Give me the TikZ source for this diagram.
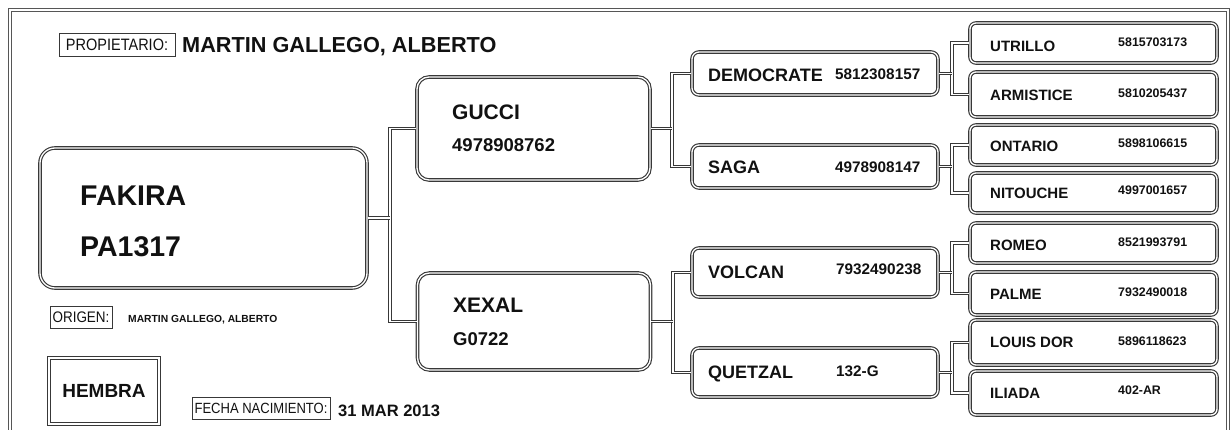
\documentclass[tikz,border=0pt]{standalone}
\usepackage{fontspec}
\setmainfont{Liberation Sans}
\newfontfamily\labelfont[FakeStretch=0.88]{Liberation Sans}
\usetikzlibrary{positioning}
\definecolor{PedLine}{HTML}{383838}
\definecolor{PedInk}{HTML}{111111}
\newcommand{\pxsize}[1]{\fontsize{#1pt}{#1pt}\selectfont}

\begin{document}
\begin{tikzpicture}[
  x=1pt,
  y=-1pt,
  every node/.style={text=PedInk},
  frameline/.style={draw=PedLine!85, line width=1pt, double, double distance=1.6pt},
  horse/.style={draw=PedLine, line width=1.15pt, double, double distance=1.3pt, fill=white},
  bigbox/.style={horse, rounded corners=15pt, minimum width=327pt, minimum height=140pt},
  parbox/.style={horse, rounded corners=12pt, minimum width=233pt},
  gpbox/.style={horse, rounded corners=7pt, minimum width=246pt},
  ggpbox/.style={horse, rounded corners=6pt, minimum width=247pt},
  sexbox/.style={horse, fill=none, minimum width=110pt, minimum height=66pt, font=\bfseries\pxsize{19}},
  tag/.style={draw=PedLine, line width=0.9pt, inner sep=0pt, minimum height=22pt},
  link/.style={draw=PedLine, line width=1.15pt, double, double distance=1.3pt},
  nm/.style={anchor=base west, inner sep=0pt}
]
\useasboundingbox (0,0) rectangle (1232,430);
\clip (0,0) rectangle (1232,430);

% outer frame, open at the bottom
\draw[frameline] (10,445) -- (10,10) -- (1228,10) -- (1228,445);

% header and footer data
\node[tag, font=\labelfont\pxsize{16.5}, minimum width=116pt, minimum height=23pt] (ownertag) at (117,44.5) {PROPIETARIO:};
\node[nm, font=\bfseries\pxsize{21.7}] (owner) at (182,53) {MARTIN GALLEGO, ALBERTO};
\node[tag, font=\labelfont\pxsize{15.3}, minimum width=62pt] (origintag) at (81,317) {ORIGEN:};
\node[nm, font=\bfseries\pxsize{10.3}] (origin) at (128,323) {MARTIN GALLEGO, ALBERTO};
\node[sexbox] (sex) at (104,391) {HEMBRA};
\node[tag, font=\labelfont\pxsize{14.8}, minimum width=138pt] (birthtag) at (261,408) {FECHA NACIMIENTO:};
\node[nm, font=\bfseries\pxsize{16.5}] (birth) at (338,416) {31 MAR 2013};

% pedigree boxes
\node[bigbox] (fakira) at (203.5,218) {};
\node[parbox, minimum height=103pt] (gucci) at (533.5,128.5) {};
\node[parbox, minimum height=97pt] (xexal) at (534,321.5) {};
\node[gpbox, minimum height=43pt] (democrate) at (815,73.5) {};
\node[gpbox, minimum height=43pt] (saga) at (815,166.5) {};
\node[gpbox, minimum height=49pt] (volcan) at (815,272.5) {};
\node[gpbox, minimum height=49pt] (quetzal) at (815,372.5) {};
\node[ggpbox, minimum height=40pt] (utrillo) at (1093.5,43) {};
\node[ggpbox, minimum height=45pt] (armistice) at (1093.5,94.5) {};
\node[ggpbox, minimum height=40pt] (ontario) at (1093.5,145) {};
\node[ggpbox, minimum height=40pt] (nitouche) at (1093.5,193) {};
\node[ggpbox, minimum height=40pt] (romeo) at (1093.5,243) {};
\node[ggpbox, minimum height=43pt] (palme) at (1093.5,293.5) {};
\node[ggpbox, minimum height=45pt] (louisdor) at (1093.5,342.5) {};
\node[ggpbox, minimum height=44pt] (iliada) at (1093.5,393) {};

% forks
\coordinate (fork1) at (390,225);
\coordinate (fork2) at (672,131);
\coordinate (fork3) at (673,327);
\coordinate (fork4) at (952,77);
\coordinate (fork5) at (952,168);
\coordinate (fork6) at (952,272);
\coordinate (fork7) at (952,370);

\draw[link] (gucci.west) -| (fork1) |- (xexal.west);
\draw[link] (fakira.east) -- (fakira.east -| fork1);
\draw[link] (democrate.west) -| (fork2) |- (saga.west);
\draw[link] (gucci.east) -- (gucci.east -| fork2);
\draw[link] (volcan.west) -| (fork3) |- (quetzal.west);
\draw[link] (xexal.east) -- (xexal.east -| fork3);
\draw[link] (utrillo.west) -| (fork4) |- (armistice.west);
\draw[link] (democrate.east) -- (democrate.east -| fork4);
\draw[link] (ontario.west) -| (fork5) |- (nitouche.west);
\draw[link] (saga.east) -- (saga.east -| fork5);
\draw[link] (romeo.west) -| (fork6) |- (palme.west);
\draw[link] (volcan.east) -- (volcan.east -| fork6);
\draw[link] (louisdor.west) -| (fork7) |- (iliada.west);
\draw[link] (quetzal.east) -- (quetzal.east -| fork7);

% names and registry numbers
\node[nm, font=\bfseries\pxsize{28.5}] (fakiraname) at (80,206) {FAKIRA};
\node[nm, font=\bfseries\pxsize{28.5}] (fakiraid) at (80,257) {PA1317};

\node[nm, font=\bfseries\pxsize{21}] (gucciname) at (452,120) {GUCCI};
\node[nm, font=\bfseries\pxsize{18.5}] (gucciid) at (452,152) {4978908762};
\node[nm, font=\bfseries\pxsize{21}] (xexalname) at (453,313) {XEXAL};
\node[nm, font=\bfseries\pxsize{18.5}] (xexalid) at (453,346) {G0722};

\node[nm, font=\bfseries\pxsize{18}] (democratename) at (708,82) {DEMOCRATE};
\node[nm, font=\bfseries\pxsize{15.3}] (democrateid) at (835,80) {5812308157};
\node[nm, font=\bfseries\pxsize{18}] (saganame) at (708,174) {SAGA};
\node[nm, font=\bfseries\pxsize{15.3}] (sagaid) at (835,173) {4978908147};
\node[nm, font=\bfseries\pxsize{18}] (volcanname) at (708,279) {VOLCAN};
\node[nm, font=\bfseries\pxsize{15.3}] (volcanid) at (836,275) {7932490238};
\node[nm, font=\bfseries\pxsize{18}] (quetzalname) at (708,378) {QUETZAL};
\node[nm, font=\bfseries\pxsize{15.3}] (quetzalid) at (836,377) {132-G};

\node[nm, font=\bfseries\pxsize{15}] (utrilloname) at (990,52) {UTRILLO};
\node[nm, font=\bfseries\pxsize{12.4}] (utrilloid) at (1118,47) {5815703173};
\node[nm, font=\bfseries\pxsize{15}] (armisticename) at (990,101) {ARMISTICE};
\node[nm, font=\bfseries\pxsize{12.4}] (armisticeid) at (1118,98) {5810205437};
\node[nm, font=\bfseries\pxsize{15}] (ontarioname) at (990,152) {ONTARIO};
\node[nm, font=\bfseries\pxsize{12.4}] (ontarioid) at (1118,148) {5898106615};
\node[nm, font=\bfseries\pxsize{15}] (nitouchename) at (990,199) {NITOUCHE};
\node[nm, font=\bfseries\pxsize{12.4}] (nitoucheid) at (1118,195) {4997001657};
\node[nm, font=\bfseries\pxsize{15}] (romeoname) at (990,251) {ROMEO};
\node[nm, font=\bfseries\pxsize{12.4}] (romeoid) at (1118,247) {8521993791};
\node[nm, font=\bfseries\pxsize{15}] (palmename) at (990,300) {PALME};
\node[nm, font=\bfseries\pxsize{12.4}] (palmeid) at (1118,297) {7932490018};
\node[nm, font=\bfseries\pxsize{15}] (louisdorname) at (990,348) {LOUIS DOR};
\node[nm, font=\bfseries\pxsize{12.4}] (louisdorid) at (1118,345) {5896118623};
\node[nm, font=\bfseries\pxsize{15}] (iliadaname) at (990,398) {ILIADA};
\node[nm, font=\bfseries\pxsize{12.4}] (iliadaid) at (1118,395) {402-AR};
\end{tikzpicture}
\end{document}
